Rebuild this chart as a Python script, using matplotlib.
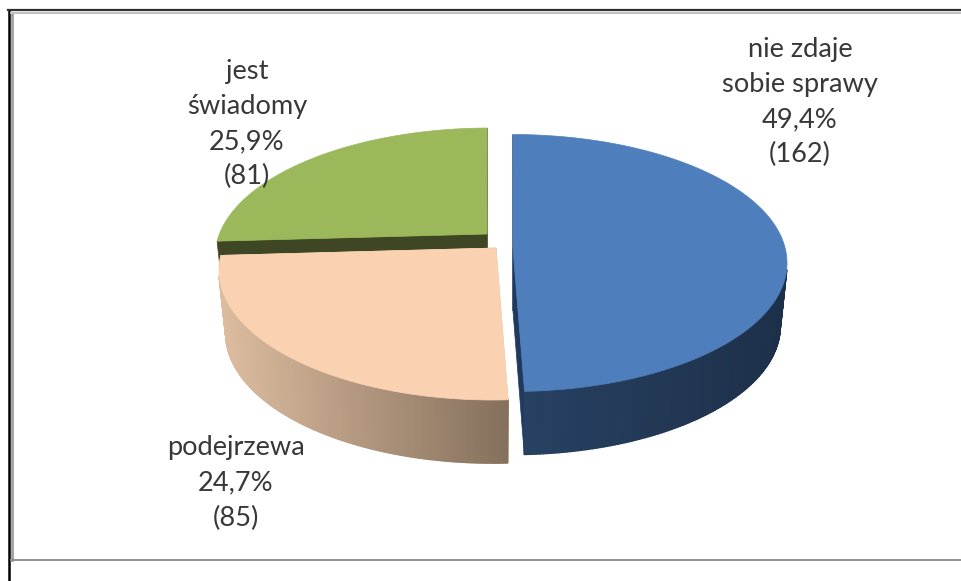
import numpy as np
import matplotlib
matplotlib.use("Agg")
import matplotlib.pyplot as plt
from matplotlib.collections import PolyCollection
from matplotlib.colors import LinearSegmentedColormap

# Slices, clockwise from the top
labels = ["nie zdaje\nsobie sprawy", "podejrzewa", "jest\nświadomy"]
percents = [49.4, 24.7, 25.9]
pct_text = ["49,4%", "24,7%", "25,9%"]
counts = [162, 85, 81]

top_colors = ["#4f7ebc", "#fad2b2", "#9bb95a"]
wall_colors = [("#284263", "#1d3049"), ("#dcbc9f", "#85705c"), ("#3f4623", "#3f4623")]

# Layout in picture pixels: ellipse centre, apex, radii of every exploded slice
centres = [(512, 263), (493, 270), (490, 257)]
apexes = [(513, 248), (496, 248), (487, 234)]
radii = [(275, 128.5), (274, 130), (275, 129)]
depth = 63
bottom_shrink = 0.975
label_pos = [(800, 102), (236, 483), (247, 124)]

plt.rcParams["font.family"] = ["Lato", "DejaVu Sans"]

fig = plt.figure(figsize=(9.61, 5.81), dpi=100)
ax = fig.add_axes([0, 0, 1, 1])
ax.set_xlim(0, 961)
ax.set_ylim(581, 0)
ax.axis("off")


def rim_points(theta_deg, centre, apex, radius):
    # Cast rays from the apex to the unit circle, which gives the perspective look
    t = np.radians(theta_deg)
    ax0 = (apex[0] - centre[0]) / radius[0]
    ay0 = (centre[1] - apex[1]) / radius[1]
    dx, dy = np.cos(t), np.sin(t)
    b = ax0 * dx + ay0 * dy
    c = ax0 ** 2 + ay0 ** 2 - 1
    s = -b + np.sqrt(b ** 2 - c)
    return centre[0] + (ax0 + s * dx) * radius[0], centre[1] - (ay0 + s * dy) * radius[1]


edges = 90 - 3.6 * np.concatenate([[0], np.cumsum(percents)])

# Back slices first: green, then peach, then blue
for i in [2, 1, 0]:
    theta = np.linspace(edges[i], edges[i + 1], 240)
    cx = centres[i][0]
    x, y = rim_points(theta, centres[i], apexes[i], radii[i])
    xb = cx + bottom_shrink * (x - cx)
    yb = y + depth
    apx, apy = apexes[i]

    # cut faces
    for j in [0, -1]:
        ax.fill([apx, x[j], xb[j], apx], [apy, y[j], yb[j], apy + depth],
                color=wall_colors[i][0] if i != 0 else "#1f3a5e", lw=0.5, zorder=i * -3 + 7)

    # outer wall with its left-to-right shading, only the part that faces us
    front = np.where(y >= centres[i][1] + 6)[0]
    quads = [[(x[k], y[k]), (x[k + 1], y[k + 1]), (xb[k + 1], yb[k + 1]), (xb[k], yb[k])]
             for k in front[:-1]]
    if quads:
        cmap = LinearSegmentedColormap.from_list("wall", wall_colors[i])
        walls = PolyCollection(quads, array=(x[front[:-1]] + x[front[1:]]) / 2, cmap=cmap,
                               edgecolors="face", linewidths=1.2, zorder=i * -3 + 8)
        walls.set_clim(min(x.min(), apx), max(x.max(), apx))
        ax.add_collection(walls)

    # top face
    ax.fill(np.r_[apx, x], np.r_[apy, y], color=top_colors[i], lw=0.5, zorder=i * -3 + 9)

    text = labels[i] + "\n" + pct_text[i] + "\n(" + str(counts[i]) + ")"
    ax.text(label_pos[i][0], label_pos[i][1], text, ha="center", va="center", fontsize=19.6,
            linespacing=1.5, color="#383838", zorder=20)

# Frame of the screenshot
ax.plot([8.5, 8.5], [10, 581], color="#000000", lw=1.8, zorder=25)
ax.plot([12, 12], [13, 560], color="#a0a0a0", lw=2.0, zorder=25)
ax.plot([8, 961], [10, 10], color="#303030", lw=1.6, zorder=25)
ax.plot([11, 961], [13, 13], color="#c0c0c0", lw=1.4, zorder=25)
ax.plot([11, 961], [559.5, 559.5], color="#909090", lw=1.4, zorder=25)

fig.savefig("out.png", dpi=100)
